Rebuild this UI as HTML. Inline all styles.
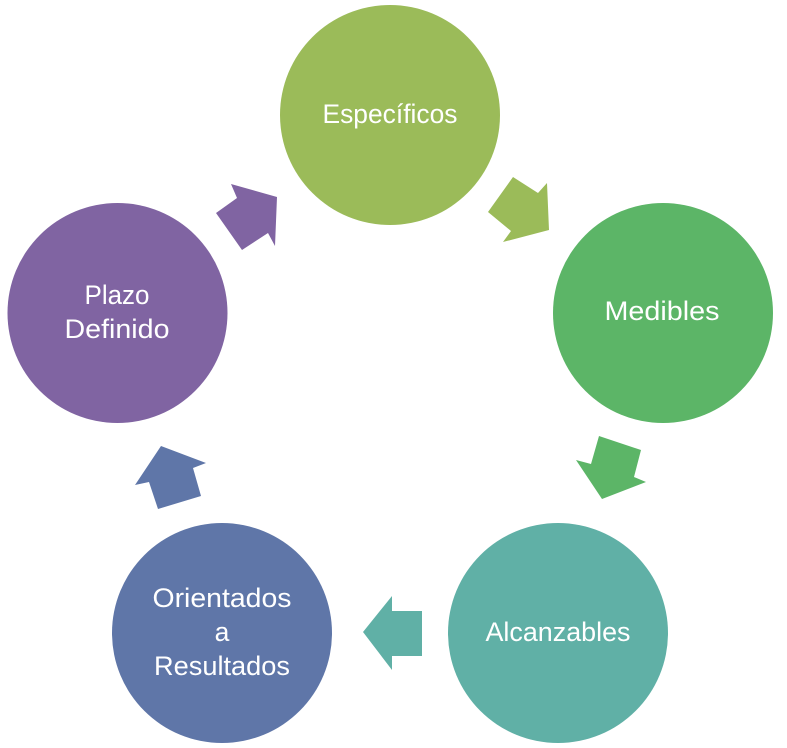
<!DOCTYPE html>
<html>
<head>
<meta charset="utf-8">
<style>
html,body{margin:0;padding:0;background:#fff;width:787px;height:748px;overflow:hidden}
svg{display:block}
text{font-family:"Liberation Sans",sans-serif;font-size:26.5px;fill:#fff;text-anchor:middle}
</style>
</head>
<body>
<svg width="787" height="748" viewBox="0 0 787 748" xmlns="http://www.w3.org/2000/svg">
<rect width="787" height="748" fill="#fff"/>
<circle cx="390" cy="115" r="110" fill="#9bbb59"/>
<circle cx="663" cy="313" r="110" fill="#5cb567"/>
<circle cx="558" cy="633" r="110" fill="#60b0a6"/>
<circle cx="222" cy="633" r="110" fill="#5f76a8"/>
<circle cx="117.500" cy="313" r="110" fill="#8064a2"/>
<polygon points="513,177 538,193 547,183 549,230 503,242 511,231 488,212" fill="#9bbb59"/>
<polygon points="599,436 641,450 634,477 646,482 602,499 576,460 591,464" fill="#5cb567"/>
<polygon points="392,596 392,611 422,611 422,656 392,656 392,670 363,632" fill="#60b0a6"/>
<polygon points="161,446 206,463 193,468 201,496 158,509 149,482 135,485" fill="#5f76a8"/>
<polygon points="231,184 277,197 275,246 268,233 242,250 216,213 237,198" fill="#8064a2"/>
<text x="390" y="123" textLength="135" lengthAdjust="spacingAndGlyphs">Específicos</text>
<text x="662" y="320" textLength="115" lengthAdjust="spacingAndGlyphs">Medibles</text>
<text x="558" y="641" textLength="145" lengthAdjust="spacingAndGlyphs">Alcanzables</text>
<text x="222" y="607" textLength="139" lengthAdjust="spacingAndGlyphs">Orientados</text>
<text x="222" y="641">a</text>
<text x="222" y="675" textLength="136" lengthAdjust="spacingAndGlyphs">Resultados</text>
<text x="117" y="304" textLength="65" lengthAdjust="spacingAndGlyphs">Plazo</text>
<text x="117" y="338" textLength="105" lengthAdjust="spacingAndGlyphs">Definido</text>
</svg>
</body>
</html>
